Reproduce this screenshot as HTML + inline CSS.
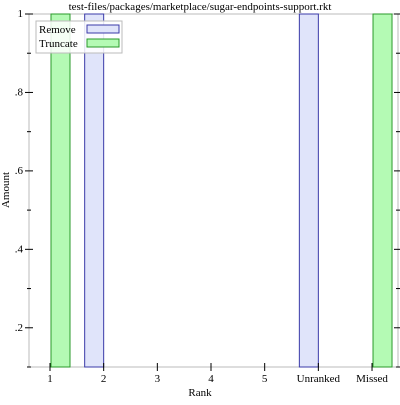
<!DOCTYPE html>
<html><head><meta charset="utf-8"><style>
body{margin:0;background:#fff}
text{font-family:"Liberation Serif",serif;font-size:11px;fill:#000}
</style></head><body>
<svg width="400" height="400">
<g id="g"></g>
</svg>
<script>
const categories=["1","2","3","4","5","Unranked","Missed"];
const removeValues=[0,1,0,0,0,1,0];
const truncateValues=[1,0,0,0,0,0,1];
const yTicks=[0.2,0.4,0.6,0.8,1];
const yTickLabels=[".2",".4",".6",".8","1"];
const yMinorTicks=[0.1,0.3,0.5,0.7,0.9];
const L=29,R=398,T=14,B=367;
const x=i=>50+i*53.67;
const y=v=>T+(1-v)*(B-T)/0.9;
const g=document.getElementById('g');
const NS='http://www.w3.org/2000/svg';
function add(tag,attrs,name,text){const e=document.createElementNS(NS,tag);for(const k in attrs)e.setAttribute(k,attrs[k]);


if(text!==undefined)e.textContent=text;g.appendChild(e);return e;}
add('rect',{x:L,y:T,width:R-L,height:B-T,fill:'none',stroke:'#bbb'},'plot-frame');
add('text',{x:200,y:10,'text-anchor':'middle'},'chart-title','test-files/packages/marketplace/sugar-endpoints-support.rkt');
add('text',{x:200,y:396,'text-anchor':'middle'},'x-axis-title','Rank');
add('text',{x:9,y:190,'text-anchor':'middle',transform:'rotate(-90 9 190)'},'y-axis-title','Amount');
const w=19;
categories.forEach((c,i)=>{
 if(removeValues[i]>0){const yy=Math.max(y(removeValues[i]),T);add('rect',{x:x(i)-w,y:yy,width:w,height:B-yy,fill:'#e0e4fa',stroke:'#3a3aa8'},'bar-remove-'+c);}
 if(truncateValues[i]>0){const yy=Math.max(y(truncateValues[i]),T);add('rect',{x:x(i)+1,y:yy,width:w,height:B-yy,fill:'#b4fab4',stroke:'#2a9a2a'},'bar-truncate-'+c);}
 add('line',{x1:x(i),x2:x(i),y1:B-4,y2:B+4,stroke:'#000'},'x-tick');
 add('text',{x:x(i),y:B+15,'text-anchor':'middle'},'x-tick-label',c);
});
yTicks.forEach((v,i)=>{
 add('line',{x1:L-4,x2:L+4,y1:y(v),y2:y(v),stroke:'#000'},'y-tick');
 add('line',{x1:R-4,x2:R+4,y1:y(v),y2:y(v),stroke:'#000'},'y-tick-right');
 add('text',{x:L-6,y:y(v)+3,'text-anchor':'end'},'y-tick-label',yTickLabels[i]);
});
yMinorTicks.forEach(v=>{
 add('line',{x1:L-2,x2:L+2,y1:y(v),y2:y(v),stroke:'#000'},'y-minor-tick');
 add('line',{x1:R-2,x2:R+2,y1:y(v),y2:y(v),stroke:'#000'},'y-minor-tick-right');
});
add('rect',{x:36,y:21,width:86,height:32,fill:'#fff','fill-opacity':0.85,stroke:'#bbb'},'legend');
add('text',{x:39,y:33},'legend-label-remove','Remove');
add('rect',{x:87,y:25,width:32,height:8,fill:'#e0e4fa',stroke:'#3a3aa8'},'legend-swatch-remove');
add('text',{x:39,y:47},'legend-label-truncate','Truncate');
add('rect',{x:87,y:39,width:32,height:8,fill:'#b4fab4',stroke:'#2a9a2a'},'legend-swatch-truncate');
</script>
</body></html>
